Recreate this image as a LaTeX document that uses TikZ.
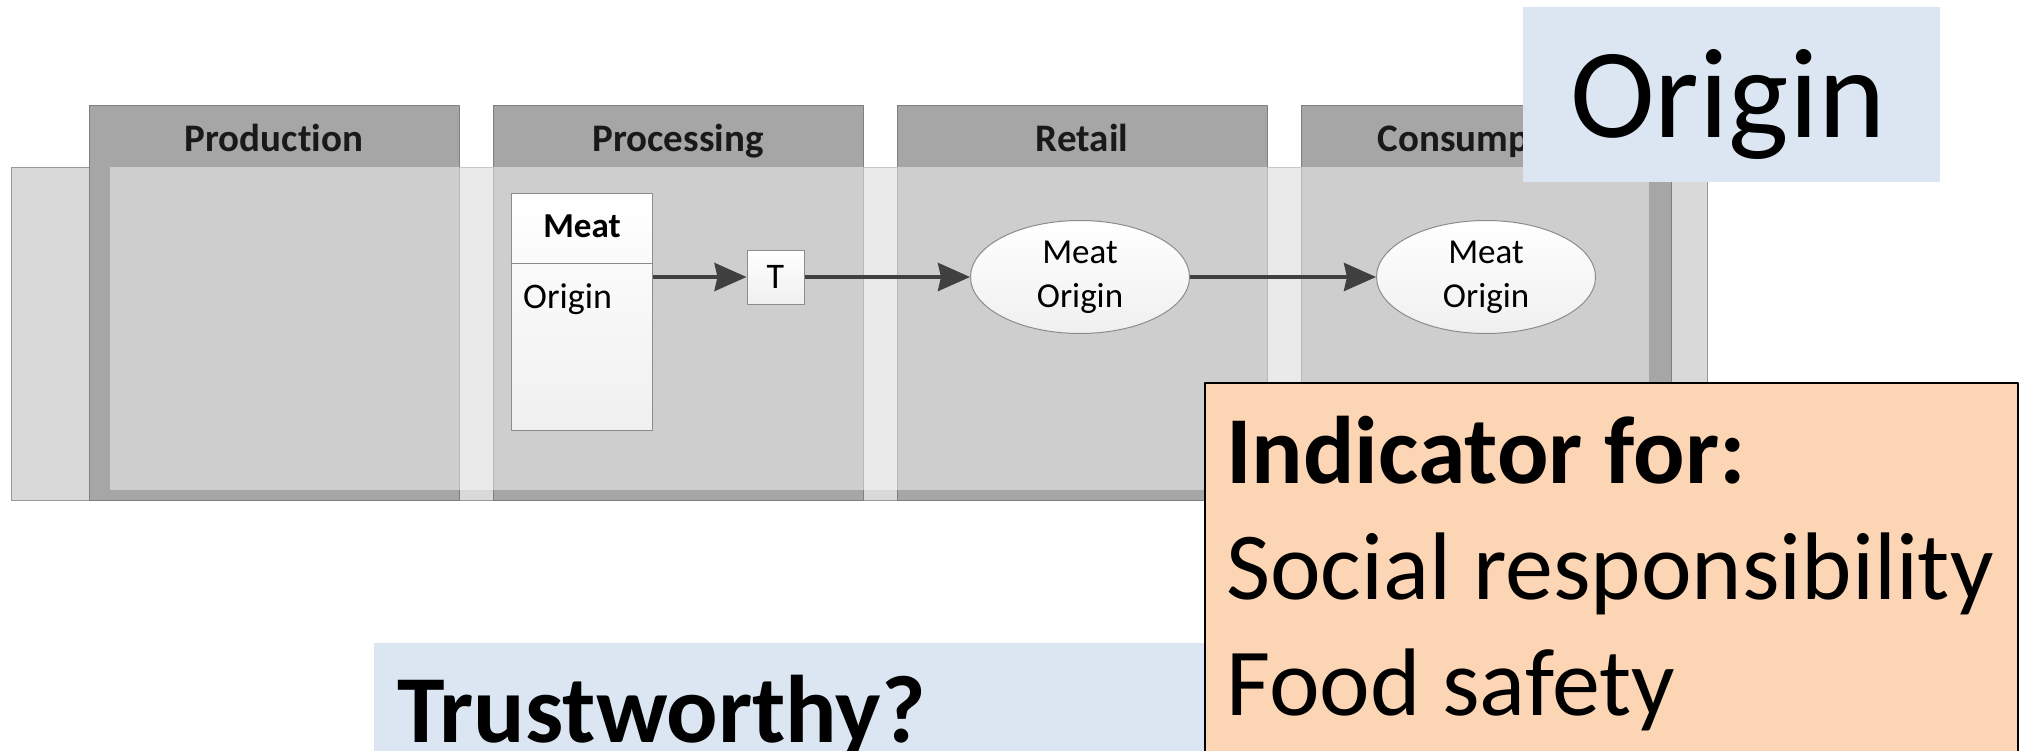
\documentclass[tikz,border=0pt]{standalone}
\usepackage{fontspec}
\setmainfont{Carlito}[Ligatures=NoCommon]
\usetikzlibrary{arrows.meta,shapes.geometric}
\definecolor{lanegray}{HTML}{A6A6A6}
\definecolor{poolgray}{HTML}{D9D9D9}
\definecolor{edgegray}{HTML}{7F7F7F}
\definecolor{notebg}{HTML}{DCE6F2}
\definecolor{peach}{HTML}{FCD5B5}
\definecolor{flowgray}{HTML}{404040}
\tikzset{
  lane/.style={fill=lanegray, draw=edgegray, line width=1pt},
  lanehead/.style={anchor=base, text=black!90, font=\bfseries\fontsize{39}{46}\selectfont},
  item/.style={draw=black!45, line width=1pt, top color=white, bottom color=black!6, inner sep=0pt},
  flow/.style={->, draw=flowgray, line width=4pt},
  notebox/.style={fill=notebg, inner sep=0pt},
}
\begin{document}
\begin{tikzpicture}[x=1pt, y=-1pt, line join=round, >={Stealth[length=32pt,width=28pt,inset=3pt]}]
  \useasboundingbox (0,0) rectangle (2024,750);
  % pool strip behind the lanes
  \draw[fill=poolgray, draw=black!40, line width=1pt] (11,167) rectangle (1707,500);
  \foreach \i/\name in {0/Production,1/Processing,2/Retail,3/Consumption}{
    \draw[lane] ({89+404*\i},105) rectangle ({459+404*\i},500);
    \node[lanehead] (head\i) at ({274+404*\i},151) {\name};
  }
  \fill[white, opacity=0.45] (110,167) rectangle (1649,490);

  % data object in processing
  \node[item, minimum width=141pt, minimum height=237pt] (meat) at (581.5,311.5) {};
  \draw[draw=black!45, line width=1pt] (meat.west |- 0,263) -- (meat.east |- 0,263);
  \node[anchor=base, font=\bfseries\fontsize{35}{40}\selectfont] (meattitle) at (582,237) {Meat};
  \node[anchor=base west, inner sep=0pt, font=\fontsize{36}{42}\selectfont] (meatattr) at (523,308) {Origin};
  \node[item, minimum width=57pt, minimum height=54pt, font=\fontsize{36}{42}\selectfont] (tag) at (775.5,277) {T};

  \node[item, ellipse, minimum width=219pt, minimum height=113pt, align=center,
        font=\fontsize{35}{44}\selectfont] (retailmeat) at (1080,277) {Meat\\Origin};
  \node[item, ellipse, minimum width=219pt, minimum height=113pt, align=center,
        font=\fontsize{35}{44}\selectfont] (consmeat) at (1486,277) {Meat\\Origin};

  \draw[flow] (meat.east |- tag.west) -- (tag.west);
  \draw[flow] (tag) -- (retailmeat);
  \draw[flow] (retailmeat) -- (consmeat);

  % callouts
  \node[notebox, minimum width=417pt, minimum height=175pt] (originbox) at (1731.5,94.5) {};
  \node[anchor=base, inner sep=0pt, font=\fontsize{128}{150}\selectfont] (origintext) at (1728,137) {Origin};

  \node[notebox, minimum width=840pt, minimum height=120pt] (trustbox) at (794,703) {};
  \node[anchor=base west, inner sep=0pt, font=\bfseries\fontsize{96}{110}\selectfont] (trusttext) at (397,742) {Trustworthy?};

  \node[fill=peach, draw=black, line width=2pt, minimum width=813pt, minimum height=380pt] (indbox) at (1611.5,573) {};
  \node[anchor=base west, inner sep=0pt, align=left, font=\fontsize{96}{116}\selectfont] (indtext) at (1226,715)
    {\textbf{Indicator for:}\\Social responsibility\\Food safety};
\end{tikzpicture}
\end{document}
